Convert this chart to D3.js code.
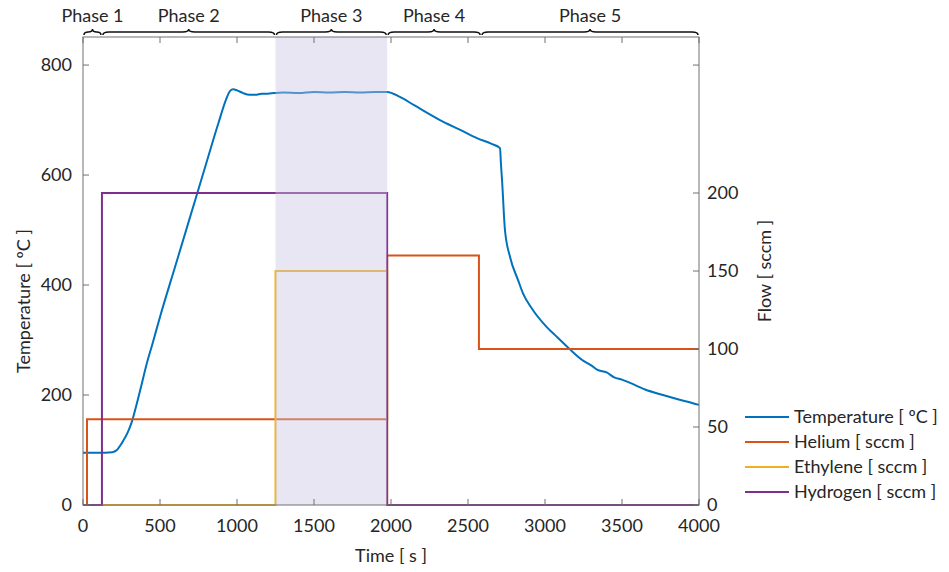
<!DOCTYPE html>
<html>
<head>
<meta charset="utf-8">
<script src="https://cdn.jsdelivr.net/npm/d3@7.9.0/dist/d3.min.js"></script>
<style>
  body { margin: 0; background: #fff; }
  svg text { font-family: Lato, "Open Sans", sans-serif; fill: #262626; }
</style>
</head>
<body>
<svg id="chart" width="949" height="572"></svg>
<script>
// temperature trace (s, ºC)
const tempTime = [0, 100, 190, 220, 253, 292, 318, 350, 383, 415, 450, 500, 600, 700, 800, 880, 930, 955, 975,
  1000, 1040, 1080, 1120, 1160, 1200, 1240, 1300, 1400, 1500, 1600, 1700, 1800, 1900, 1975,
  2058, 2150, 2318, 2450, 2558, 2650, 2708, 2714, 2721, 2740, 2773, 2825, 2857, 2920, 3010, 3080,
  3162, 3250, 3300, 3338, 3400, 3450, 3500, 3552, 3650, 3766, 3880, 3950, 4000];
const tempValue = [95, 95, 96, 100, 113, 133, 152, 185, 222, 258, 292, 342, 435, 528, 621, 695, 738, 753, 756,
  754, 749, 746, 746, 748, 748, 749, 750, 749, 751, 750, 751, 750, 751, 751,
  742, 727, 700, 682, 667, 657, 649, 620, 591, 500, 451, 409, 385, 355, 324, 305,
  283, 262, 254, 246, 241, 232, 228, 222, 210, 200, 191, 186, 182];

// gas flows (s, sccm), step changes
const heliumTime = [0, 26, 1975, 2571, 4000];
const heliumFlow = [0, 55, 160, 100, 100];
const ethyleneTime = [0, 1250, 1975, 4000];
const ethyleneFlow = [0, 150, 0, 0];
const hydrogenTime = [0, 123, 1975, 4000];
const hydrogenFlow = [0, 200, 0, 0];

// phases
const phaseNames = ['Phase 1', 'Phase 2', 'Phase 3', 'Phase 4', 'Phase 5'];
const phaseBounds = [0, 123, 1250, 1975, 2585, 4000];

const xTicks = [0, 500, 1000, 1500, 2000, 2500, 3000, 3500, 4000];
const tempTicks = [0, 200, 400, 600, 800];
const flowTicks = [0, 50, 100, 150, 200];

const seriesNames = ['Temperature [ ºC ]', 'Helium [ sccm ]', 'Ethylene [ sccm ]', 'Hydrogen [ sccm ]'];
const seriesColors = ['#0072BD', '#D95319', '#EDB120', '#7E2F8E'];

const margin = { left: 83, right: 250, top: 37, bottom: 67 };
const W = 949, H = 572;
const svg = d3.select('#chart');

const x = d3.scaleLinear().domain([0, 4000]).range([margin.left, W - margin.right]);
const yT = d3.scaleLinear().domain([0, 851]).range([H - margin.bottom, margin.top]);
const yF = d3.scaleLinear().domain([0, 300]).range([H - margin.bottom, margin.top]);

const axisColor = '#707070';
const fs = 18;

// lines
const tempLine = d3.line().x(d => x(d[0])).y(d => yT(d[1])).curve(d3.curveMonotoneX);
const flowLine = d3.line().x(d => x(d[0])).y(d => yF(d[1])).curve(d3.curveStepAfter);

svg.append('path')
  .attr('d', tempLine(d3.zip(tempTime, tempValue)))
  .attr('fill', 'none').attr('stroke', seriesColors[0]).attr('stroke-width', 2);

[[heliumTime, heliumFlow], [ethyleneTime, ethyleneFlow], [hydrogenTime, hydrogenFlow]].forEach(([t, v], i) => {
  svg.append('path')
    .attr('d', flowLine(d3.zip(t, v)))
    .attr('fill', 'none').attr('stroke', seriesColors[i + 1]).attr('stroke-width', 2);
});

// phase 3 shading drawn on top
svg.append('rect')
  .attr('x', x(phaseBounds[2])).attr('y', margin.top)
  .attr('width', x(phaseBounds[3]) - x(phaseBounds[2]))
  .attr('height', yT(0) - margin.top)
  .attr('fill', 'rgb(200,195,225)').attr('opacity', 0.42);

// box
svg.append('rect')
  .attr('x', margin.left).attr('y', margin.top)
  .attr('width', x(4000) - margin.left).attr('height', yT(0) - margin.top)
  .attr('fill', 'none').attr('stroke', axisColor).attr('stroke-width', 1);

// x ticks (bottom + top, inward)
const tickLen = 6;
xTicks.forEach(t => {
  svg.append('line').attr('x1', x(t)).attr('x2', x(t))
    .attr('y1', yT(0)).attr('y2', yT(0) - tickLen).attr('stroke', axisColor);
  svg.append('line').attr('x1', x(t)).attr('x2', x(t))
    .attr('y1', margin.top).attr('y2', margin.top + tickLen).attr('stroke', axisColor);
  svg.append('text').attr('x', x(t)).attr('y', yT(0) + 27)
    .attr('text-anchor', 'middle').attr('font-size', fs).text(t);
});

// left axis
tempTicks.forEach(v => {
  svg.append('line').attr('x1', margin.left).attr('x2', margin.left + tickLen)
    .attr('y1', yT(v)).attr('y2', yT(v)).attr('stroke', axisColor);
  svg.append('text').attr('x', margin.left - 11).attr('y', yT(v))
    .attr('dy', '0.35em').attr('text-anchor', 'end').attr('font-size', fs).text(v);
});

// right axis
const xr = x(4000);
flowTicks.forEach(v => {
  svg.append('line').attr('x1', xr).attr('x2', xr - tickLen)
    .attr('y1', yF(v)).attr('y2', yF(v)).attr('stroke', axisColor);
  svg.append('text').attr('x', xr + 8).attr('y', yF(v))
    .attr('dy', '0.35em').attr('text-anchor', 'start').attr('font-size', fs).text(v);
});
// unlabeled mirror tick at 800 ºC
svg.append('line').attr('x1', xr).attr('x2', xr - tickLen)
  .attr('y1', yT(800)).attr('y2', yT(800)).attr('stroke', axisColor);

// axis titles
svg.append('text').attr('transform', `translate(24,${(margin.top + yT(0)) / 2 + 30}) rotate(-90)`)
  .attr('text-anchor', 'middle').attr('dy', '0.35em').attr('font-size', fs).text('Temperature [ ºC ]');
svg.append('text').attr('transform', `translate(765,${(margin.top + yT(0)) / 2}) rotate(-90)`)
  .attr('text-anchor', 'middle').attr('dy', '0.35em').attr('font-size', fs).text('Flow [ sccm ]');
svg.append('text').attr('x', (margin.left + xr) / 2).attr('y', H - 10)
  .attr('text-anchor', 'middle').attr('font-size', fs).text('Time [ s ]');

// phase braces and labels
function bracePath(x1, x2, y, h) {
  const m = (x1 + x2) / 2;
  const s = Math.min(h * 2, (x2 - x1) / 4);
  return `M${x1},${y + h} Q${x1},${y} ${x1 + s},${y} L${m - s},${y} Q${m},${y} ${m},${y - h}` +
    ` Q${m},${y} ${m + s},${y} L${x2 - s},${y} Q${x2},${y} ${x2},${y + h}`;
}
phaseNames.forEach((name, i) => {
  const x1 = x(phaseBounds[i]) + 1, x2 = x(phaseBounds[i + 1]) - 1;
  svg.append('path').attr('d', bracePath(x1, x2, 32, 3))
    .attr('fill', 'none').attr('stroke', '#111').attr('stroke-width', 1.5);
  svg.append('text').attr('x', (x1 + x2) / 2).attr('y', 22)
    .attr('text-anchor', 'middle').attr('font-size', fs).text(name);
});

// legend
const legend = svg.append('g').attr('transform', 'translate(745,417)');
seriesNames.forEach((name, i) => {
  const g = legend.append('g').attr('transform', `translate(0,${i * 25})`);
  g.append('line').attr('x1', 0).attr('x2', 44).attr('stroke', seriesColors[i]).attr('stroke-width', 2);
  g.append('text').attr('x', 49).attr('dy', '0.35em').attr('font-size', fs).text(name);
});
</script>
</body>
</html>
